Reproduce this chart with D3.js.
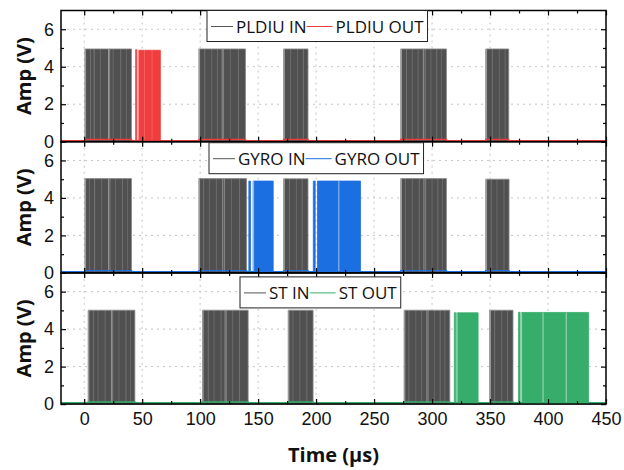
<!DOCTYPE html>
<html>
<head>
<meta charset="utf-8">
<script src="https://cdn.jsdelivr.net/npm/d3@7"></script>
<style>
  html, body { margin: 0; padding: 0; background: #fff; }
  svg { display: block; font-family: "Open Sans", "Noto Sans", sans-serif; }
  .axis text { font-size: 18px; fill: #111; }
  .axis line { stroke: #000; stroke-width: 1.2; }
  .axis path { display: none; }
</style>
</head>
<body>
<svg id="chart" width="624" height="470"></svg>
<script>
// Tick values
const timeTicks = [0, 50, 100, 150, 200, 250, 300, 350, 400, 450];
const timeMinorTicks = [25, 75, 125, 175, 225, 275, 325, 375, 425];
const ampTicks = [0, 2, 4, 6];
const ampMinorTicks = [1, 3, 5];

// Panel names and output colours
const panelNames = ["PLDIU", "GYRO", "ST"];
const outColors = ["#f03d3d", "#1c6fe0", "#36ad6b"];

// Pulse bursts: [start µs, end µs, high level V]
const pldiuIn = [[0.6, 40.8, 4.95], [98.9, 139.1, 4.95], [172, 193, 4.95], [273, 312.4, 4.95], [346.3, 366.1, 4.95]];
const pldiuOut = [[44.4, 45.1, 4.92], [46.5, 65.7, 4.88]];
const gyroIn = [[0.6, 40.8, 5.03], [98.9, 140, 5.03], [172, 193, 5.02], [273, 312.4, 5.03], [346.3, 366.4, 5.0]];
const gyroOut = [[142, 143.4, 4.9], [145.7, 163, 4.9], [197.6, 199.2, 4.9], [201.2, 238.3, 4.9]];
const stIn = [[3.4, 43.7, 5.01], [102, 141.4, 5.01], [175.9, 197.4, 5.01], [275.9, 315.3, 5.01], [349.7, 369.8, 5.01]];
const stOut = [[319.2, 320.2, 4.88], [321.3, 339.7, 4.87], [374.6, 375.8, 4.9], [376.8, 435, 4.89]];

// Visible edges (lighter lines) inside the bursts: [time µs, strength 0–1]
const pldiuInEdges = [[1.2, 0.9], [5.5, 0.4], [8.6, 0.5], [14, 0.3], [21, 0.9], [22, 0.7], [25, 0.35], [31.5, 0.4], [36.4, 0.3],
  [99.5, 0.9], [104, 0.4], [110, 0.3], [115, 0.35], [119, 0.8], [120.2, 0.6], [126, 0.3], [133, 0.4],
  [172.6, 0.9], [178, 0.35], [184, 0.3], [189, 0.4],
  [273.6, 0.9], [278, 0.4], [283, 0.3], [288, 0.35], [292.5, 0.8], [294, 0.6], [299, 0.3], [304, 0.4], [308, 0.3],
  [347, 0.9], [352, 0.4], [358, 0.3], [363, 0.35]];
const pldiuOutEdges = [[46.9, 0.6], [52, 0.25], [58.5, 0.25]];
const gyroInEdges = [[1.2, 0.9], [4.5, 0.35], [9, 0.5], [15, 0.3], [21, 0.8], [22.2, 0.6], [27, 0.3], [33, 0.4], [37.5, 0.3],
  [99.5, 0.9], [103, 0.4], [108, 0.3], [114, 0.35], [119.5, 0.8], [121, 0.6], [127, 0.3], [134, 0.4],
  [172.6, 0.9], [177, 0.35], [183, 0.3], [188, 0.4],
  [273.6, 0.9], [277, 0.35], [283, 0.3], [289, 0.4], [293, 0.8], [294.5, 0.6], [300, 0.3], [305, 0.4], [309, 0.3],
  [347, 0.9], [351, 0.4], [356, 0.3], [362, 0.35]];
const gyroOutEdges = [[146.1, 0.7], [219.6, 0.8]];
const stInEdges = [[4, 0.9], [8, 0.4], [12, 0.3], [18, 0.35], [23.5, 0.8], [24.6, 0.6], [30, 0.3], [36, 0.4], [40, 0.3],
  [102.6, 0.9], [107, 0.4], [112, 0.3], [118, 0.35], [121.5, 0.8], [122.6, 0.6], [128, 0.3], [134, 0.4],
  [176.5, 0.9], [180, 0.35], [186, 0.3], [192, 0.4],
  [276.5, 0.9], [280, 0.4], [286, 0.3], [291, 0.35], [295.5, 0.8], [296.7, 0.6], [302, 0.3], [307, 0.4], [311, 0.3],
  [350.3, 0.9], [354, 0.4], [360, 0.3], [365, 0.35]];
const stOutEdges = [[321.7, 0.6], [377.2, 0.7], [395.7, 0.8], [415.7, 0.8]];

// Low levels, V
const inLow = [0.03, 0.03, 0.03];
const outLow = [0.06, 0.07, 0.07];
const outCrosstalk = [0.12, 0.12, 0.11];

const panels = [
  { name: panelNames[0], color: outColors[0], inB: pldiuIn, outB: pldiuOut, inE: pldiuInEdges, outE: pldiuOutEdges, i: 0 },
  { name: panelNames[1], color: outColors[1], inB: gyroIn, outB: gyroOut, inE: gyroInEdges, outE: gyroOutEdges, i: 1 },
  { name: panelNames[2], color: outColors[2], inB: stIn, outB: stOut, inE: stInEdges, outE: stOutEdges, i: 2 }
];

const svg = d3.select("#chart");
const left = 61, right = 606, top0 = 10.5, ph = 131.2;
const inColor = "#505050";

const x = d3.scaleLinear().domain([-20, 450]).range([left, right]);

const legendPos = [[207, top0], [209, top0 + ph + 1], [240, top0 + 2 * ph + 4]];

panels.forEach(p => {
  const top = top0 + p.i * ph;
  const bottom = top + ph;
  const y = d3.scaleLinear().domain([0, 7]).range([bottom, top]);
  const g = svg.append("g");

  // clip to plot area
  const clipId = "clip" + p.i;
  svg.append("clipPath").attr("id", clipId)
    .append("rect").attr("x", left).attr("y", top).attr("width", right - left).attr("height", ph);
  const plot = g.append("g").attr("clip-path", `url(#${clipId})`);

  // dotted grid
  plot.append("g").selectAll("line").data(timeTicks).join("line")
    .attr("x1", d => x(d)).attr("x2", d => x(d)).attr("y1", top).attr("y2", bottom)
    .attr("stroke", "#c4c4c4").attr("stroke-width", 1).attr("stroke-dasharray", "2,4");
  plot.append("g").selectAll("line").data(ampTicks.filter(d => d > 0)).join("line")
    .attr("x1", left).attr("x2", right).attr("y1", d => y(d)).attr("y2", d => y(d))
    .attr("stroke", "#c4c4c4").attr("stroke-width", 1).attr("stroke-dasharray", "2,4");

  const burstArea = d3.area().x(d => x(d[0])).y0(y(0)).y1(d => y(d[1]));

  // input bursts
  plot.append("g").selectAll("path").data(p.inB).join("path")
    .attr("d", b => burstArea([[b[0], b[2]], [b[1], b[2]]]))
    .attr("fill", inColor).attr("stroke", "#8a8a8a").attr("stroke-width", 0.8);
  plot.append("g").selectAll("line").data(p.inE).join("line")
    .attr("x1", d => x(d[0])).attr("x2", d => x(d[0]))
    .attr("y1", y(0.05)).attr("y2", y(p.inB[0][2]))
    .attr("stroke", "#b8b8b8").attr("stroke-opacity", d => d[1] * 0.8).attr("stroke-width", 1);
  plot.append("line")
    .attr("x1", left).attr("x2", right).attr("y1", y(inLow[p.i])).attr("y2", y(inLow[p.i]))
    .attr("stroke", inColor).attr("stroke-width", 1.2);

  // output bursts
  plot.append("g").selectAll("path").data(p.outB).join("path")
    .attr("d", b => burstArea([[b[0], b[2]], [b[1], b[2]]]))
    .attr("fill", p.color).attr("stroke", p.color).attr("stroke-width", 0.8);
  plot.append("g").selectAll("line").data(p.outE).join("line")
    .attr("x1", d => x(d[0])).attr("x2", d => x(d[0]))
    .attr("y1", y(0.1)).attr("y2", y(p.outB[0][2]))
    .attr("stroke", "#ffffff").attr("stroke-opacity", d => d[1] * 0.7).attr("stroke-width", 1);

  // output low level, lifted slightly by crosstalk during input bursts
  const lowPts = [[-20, outLow[p.i]]];
  p.inB.forEach(b => {
    lowPts.push([b[0], outLow[p.i]], [b[0], outCrosstalk[p.i]], [b[1], outCrosstalk[p.i]], [b[1], outLow[p.i]]);
  });
  lowPts.push([450, outLow[p.i]]);
  plot.append("path")
    .attr("d", d3.line().x(d => x(d[0])).y(d => y(d[1]))(lowPts))
    .attr("fill", "none").attr("stroke", p.color).attr("stroke-width", 1.4);

  // axes with inward ticks
  const isLast = p.i === 2;
  g.append("g").attr("class", "axis").attr("transform", `translate(0,${bottom})`)
    .call(d3.axisBottom(x).tickValues(timeTicks).tickSize(-5).tickSizeOuter(0).tickPadding(8)
      .tickFormat(isLast ? d3.format("d") : () => ""));
  g.append("g").attr("class", "axis").attr("transform", `translate(0,${bottom})`)
    .call(d3.axisBottom(x).tickValues(timeMinorTicks).tickSize(-3).tickSizeOuter(0).tickFormat(() => ""));
  g.append("g").attr("class", "axis").attr("transform", `translate(0,${top})`)
    .call(d3.axisTop(x).tickValues(timeTicks).tickSize(-5).tickSizeOuter(0).tickFormat(() => ""));
  g.append("g").attr("class", "axis").attr("transform", `translate(0,${top})`)
    .call(d3.axisTop(x).tickValues(timeMinorTicks).tickSize(-3).tickSizeOuter(0).tickFormat(() => ""));
  g.append("g").attr("class", "axis").attr("transform", `translate(${left},0)`)
    .call(d3.axisLeft(y).tickValues(ampTicks).tickSize(-5).tickSizeOuter(0).tickPadding(7).tickFormat(d3.format("d")));
  g.append("g").attr("class", "axis").attr("transform", `translate(${left},0)`)
    .call(d3.axisLeft(y).tickValues(ampMinorTicks).tickSize(-3).tickSizeOuter(0).tickFormat(() => ""));
  g.append("g").attr("class", "axis").attr("transform", `translate(${right},0)`)
    .call(d3.axisRight(y).tickValues(ampTicks).tickSize(-5).tickSizeOuter(0).tickFormat(() => ""));
  g.append("g").attr("class", "axis").attr("transform", `translate(${right},0)`)
    .call(d3.axisRight(y).tickValues(ampMinorTicks).tickSize(-3).tickSizeOuter(0).tickFormat(() => ""));

  // frame
  g.append("rect").attr("x", left).attr("y", top).attr("width", right - left).attr("height", ph)
    .attr("fill", "none").attr("stroke", "#000").attr("stroke-width", 1.5);

  // y label
  g.append("text")
    .attr("transform", `translate(23,${(top + bottom) / 2}) rotate(-90)`)
    .attr("text-anchor", "middle").attr("dominant-baseline", "central")
    .attr("font-size", 20).attr("font-weight", "bold").attr("fill", "#111")
    .text("Amp (V)");

  // legend
  const [lx, ly] = legendPos[p.i];
  const leg = g.append("g").attr("transform", `translate(${lx},${ly})`);
  const box = leg.append("rect").attr("x", 0).attr("y", 0).attr("height", 31)
    .attr("fill", "#fff").attr("stroke", "#222").attr("stroke-width", 1);
  let cx = 4;
  [[p.name + " IN", "#555"], [p.name + " OUT", p.color]].forEach(([label, c], k) => {
    const len = k === 0 ? 22 : 26;
    leg.append("line").attr("x1", cx).attr("x2", cx + len).attr("y1", 16).attr("y2", 16)
      .attr("stroke", c).attr("stroke-width", 1);
    cx += len + 3;
    const t = leg.append("text").attr("x", cx).attr("y", 16).attr("dominant-baseline", "central")
      .attr("font-size", 17).attr("fill", "#111").text(label);
    cx += t.node().getComputedTextLength();
  });
  box.attr("width", cx + 4);
});

// x label
svg.append("text")
  .attr("x", (left + right) / 2).attr("y", 454)
  .attr("text-anchor", "middle").attr("dominant-baseline", "central")
  .attr("font-size", 20).attr("font-weight", "bold").attr("fill", "#111")
  .text("Time (µs)");
</script>
</body>
</html>
